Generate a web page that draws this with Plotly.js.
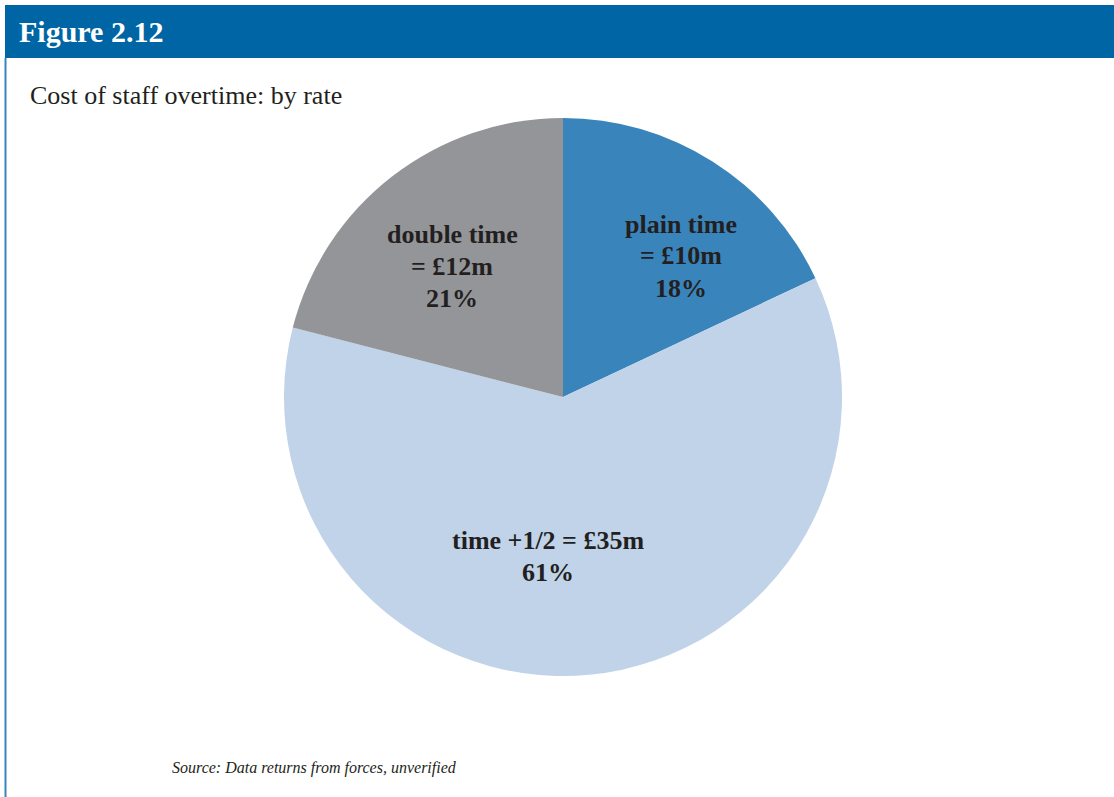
<!DOCTYPE html>
<html>
<head>
<meta charset="utf-8">
<script src="https://cdn.plot.ly/plotly-3.0.1.min.js"></script>
<style>html,body{margin:0;padding:0;background:#fff;}#chart{width:1114px;height:797px;}</style>
</head>
<body>
<div id="chart"></div>
<script>
const categories = ['plain time', 'time +1/2', 'double time'];
const amounts = [10, 35, 12];       // £m
const shares = [18, 61, 21];        // %
const colors = ['#3a84bc', '#c0d3e8', '#939598'];

const W = 1114, H = 797;
const cx = 563, cy = 397, r = 279;
const SERIF = 'Liberation Serif, Times New Roman, serif';

// how each slice label is broken into lines, and where its block is centred (px)
const splitName = [true, false, true];
const labelPos = [[681, 256], [548, 556], [452, 266]];
const lineGap = 32;

const trace = {
  type: 'pie',
  labels: categories,
  values: shares,
  customdata: amounts,
  textinfo: 'none',
  sort: false,
  direction: 'clockwise',
  rotation: 0,
  marker: {colors: colors, line: {width: 0}},
  hoverinfo: 'skip',
  showlegend: false,
  domain: {x: [(cx - r) / W, (cx + r) / W], y: [1 - (cy + r) / H, 1 - (cy - r) / H]}
};

const sliceLabels = [];
categories.forEach((c, i) => {
  const lines = splitName[i]
    ? [c, '= £' + amounts[i] + 'm', shares[i] + '%']
    : [c + ' = £' + amounts[i] + 'm', shares[i] + '%'];
  lines.forEach((t, k) => {
    const yPx = labelPos[i][1] + (k - (lines.length - 1) / 2) * lineGap;
    sliceLabels.push({
      text: '<b>' + t + '</b>',
      xref: 'paper', yref: 'paper',
      x: labelPos[i][0] / W, y: 1 - yPx / H,
      xanchor: 'center', yanchor: 'middle', align: 'center', showarrow: false,
      font: {family: SERIF, size: 26, color: '#231f20'}
    });
  });
});

const layout = {
  width: W, height: H,
  margin: {l: 0, r: 0, t: 0, b: 0},
  paper_bgcolor: '#ffffff',
  showlegend: false,
  shapes: [
    {type: 'rect', xref: 'paper', yref: 'paper', x0: 5 / W, x1: 1, y0: 1 - 58 / H, y1: 1 - 5 / H,
     fillcolor: '#0065a4', line: {width: 0}, layer: 'below'},
    {type: 'line', xref: 'paper', yref: 'paper', x0: 5.5 / W, x1: 5.5 / W, y0: 0, y1: 1 - 58 / H,
     line: {color: '#3a84bc', width: 2}}
  ],
  annotations: [
    {text: '<b>Figure 2.12</b>', xref: 'paper', yref: 'paper', x: 17 / W, y: 1 - 31 / H,
     xanchor: 'left', yanchor: 'middle', showarrow: false,
     font: {family: SERIF, size: 30, color: '#ffffff'}},
    {text: 'Cost of staff overtime: by rate', xref: 'paper', yref: 'paper', x: 28 / W, y: 1 - 96 / H,
     xanchor: 'left', yanchor: 'middle', showarrow: false,
     font: {family: SERIF, size: 26, color: '#231f20'}},
    {text: '<i>Source: Data returns from forces, unverified</i>', xref: 'paper', yref: 'paper', x: 170 / W, y: 1 - 768 / H,
     xanchor: 'left', yanchor: 'middle', showarrow: false,
     font: {family: SERIF, size: 16, color: '#231f20'}}
  ].concat(sliceLabels)
};

Plotly.newPlot('chart', [trace], layout, {displayModeBar: false, staticPlot: true});
</script>
</body>
</html>
